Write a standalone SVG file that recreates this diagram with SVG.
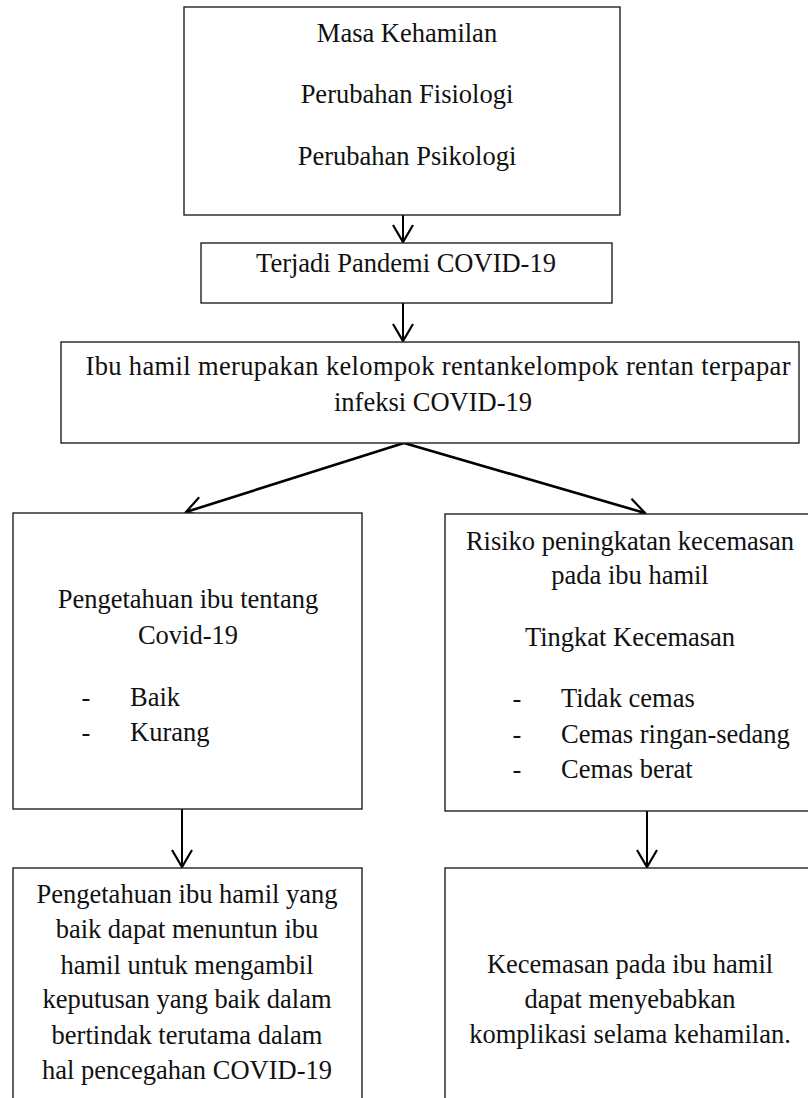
<svg xmlns="http://www.w3.org/2000/svg" width="808" height="1098" viewBox="0 0 808 1098">
<style>
.box{fill:#fff;stroke:#222;stroke-width:1.4}
.t{font-family:"Liberation Serif","Times New Roman",serif;font-size:26.5px;fill:#111}
.c{text-anchor:middle}
.con{fill:none;stroke:#000;stroke-width:2}
.diag{fill:none;stroke:#000;stroke-width:2.6}
</style>
<defs>
<marker id="ah" markerUnits="userSpaceOnUse" markerWidth="30" markerHeight="30" viewBox="-20 -15 25 30" refX="0" refY="0" orient="auto">
<path d="M -17 -10 L 0 0 L -17 10" fill="none" stroke="#000" stroke-width="2.2"/>
</marker>
</defs>
<rect x="0" y="0" width="808" height="1098" fill="#fff"/>
<g id="connectors">
<line class="con" x1="403" y1="215" x2="403" y2="242" marker-end="url(#ah)"/>
<line class="con" x1="403" y1="303" x2="403" y2="341" marker-end="url(#ah)"/>
<line class="diag" x1="404" y1="443" x2="186" y2="512" marker-end="url(#ah)"/>
<line class="diag" x1="404" y1="443" x2="645" y2="513" marker-end="url(#ah)"/>
<line class="con" x1="182" y1="809" x2="182" y2="867" marker-end="url(#ah)"/>
<line class="con" x1="647" y1="811" x2="647" y2="867" marker-end="url(#ah)"/>
</g>
<g id="node-masa">
<rect class="box" x="184" y="7" width="436" height="208"/>
<text class="t c" x="407" y="42">Masa Kehamilan</text>
<text class="t c" x="407" y="103">Perubahan Fisiologi</text>
<text class="t c" x="407" y="165">Perubahan Psikologi</text>
</g>
<g id="node-pandemi">
<rect class="box" x="201" y="243" width="411" height="60"/>
<text class="t c" x="406" y="272">Terjadi Pandemi COVID-19</text>
</g>
<g id="node-rentan">
<rect class="box" x="61" y="342" width="738" height="101"/>
<text class="t c" x="438" y="375" textLength="705" lengthAdjust="spacing">Ibu hamil merupakan kelompok rentankelompok rentan terpapar</text>
<text class="t c" x="433" y="411">infeksi COVID-19</text>
</g>
<g id="node-pengetahuan">
<rect class="box" x="13" y="513" width="349" height="296"/>
<text class="t c" x="188" y="608">Pengetahuan ibu tentang</text>
<text class="t c" x="188" y="644">Covid-19</text>
<text class="t c" x="86" y="706">-</text>
<text class="t" x="130" y="706">Baik</text>
<text class="t c" x="86" y="741">-</text>
<text class="t" x="130" y="741">Kurang</text>
</g>
<g id="node-risiko">
<rect class="box" x="445" y="514" width="370" height="297"/>
<text class="t c" x="630" y="550">Risiko peningkatan kecemasan</text>
<text class="t c" x="630" y="584">pada ibu hamil</text>
<text class="t c" x="630" y="646">Tingkat Kecemasan</text>
<text class="t c" x="517" y="707">-</text>
<text class="t" x="561" y="707">Tidak cemas</text>
<text class="t c" x="517" y="743">-</text>
<text class="t" x="561" y="743">Cemas ringan-sedang</text>
<text class="t c" x="517" y="778">-</text>
<text class="t" x="561" y="778">Cemas berat</text>
</g>
<g id="node-pengetahuan-baik">
<rect class="box" x="13" y="868" width="349" height="240"/>
<text class="t c" x="187" y="903">Pengetahuan ibu hamil yang</text>
<text class="t c" x="187" y="938">baik dapat menuntun ibu</text>
<text class="t c" x="187" y="974">hamil untuk mengambil</text>
<text class="t c" x="187" y="1008">keputusan yang baik dalam</text>
<text class="t c" x="187" y="1044">bertindak terutama dalam</text>
<text class="t c" x="187" y="1079">hal pencegahan COVID-19</text>
</g>
<g id="node-komplikasi">
<rect class="box" x="445" y="868" width="370" height="240"/>
<text class="t c" x="630" y="973">Kecemasan pada ibu hamil</text>
<text class="t c" x="630" y="1008">dapat menyebabkan</text>
<text class="t c" x="630" y="1043">komplikasi selama kehamilan.</text>
</g>
</svg>
